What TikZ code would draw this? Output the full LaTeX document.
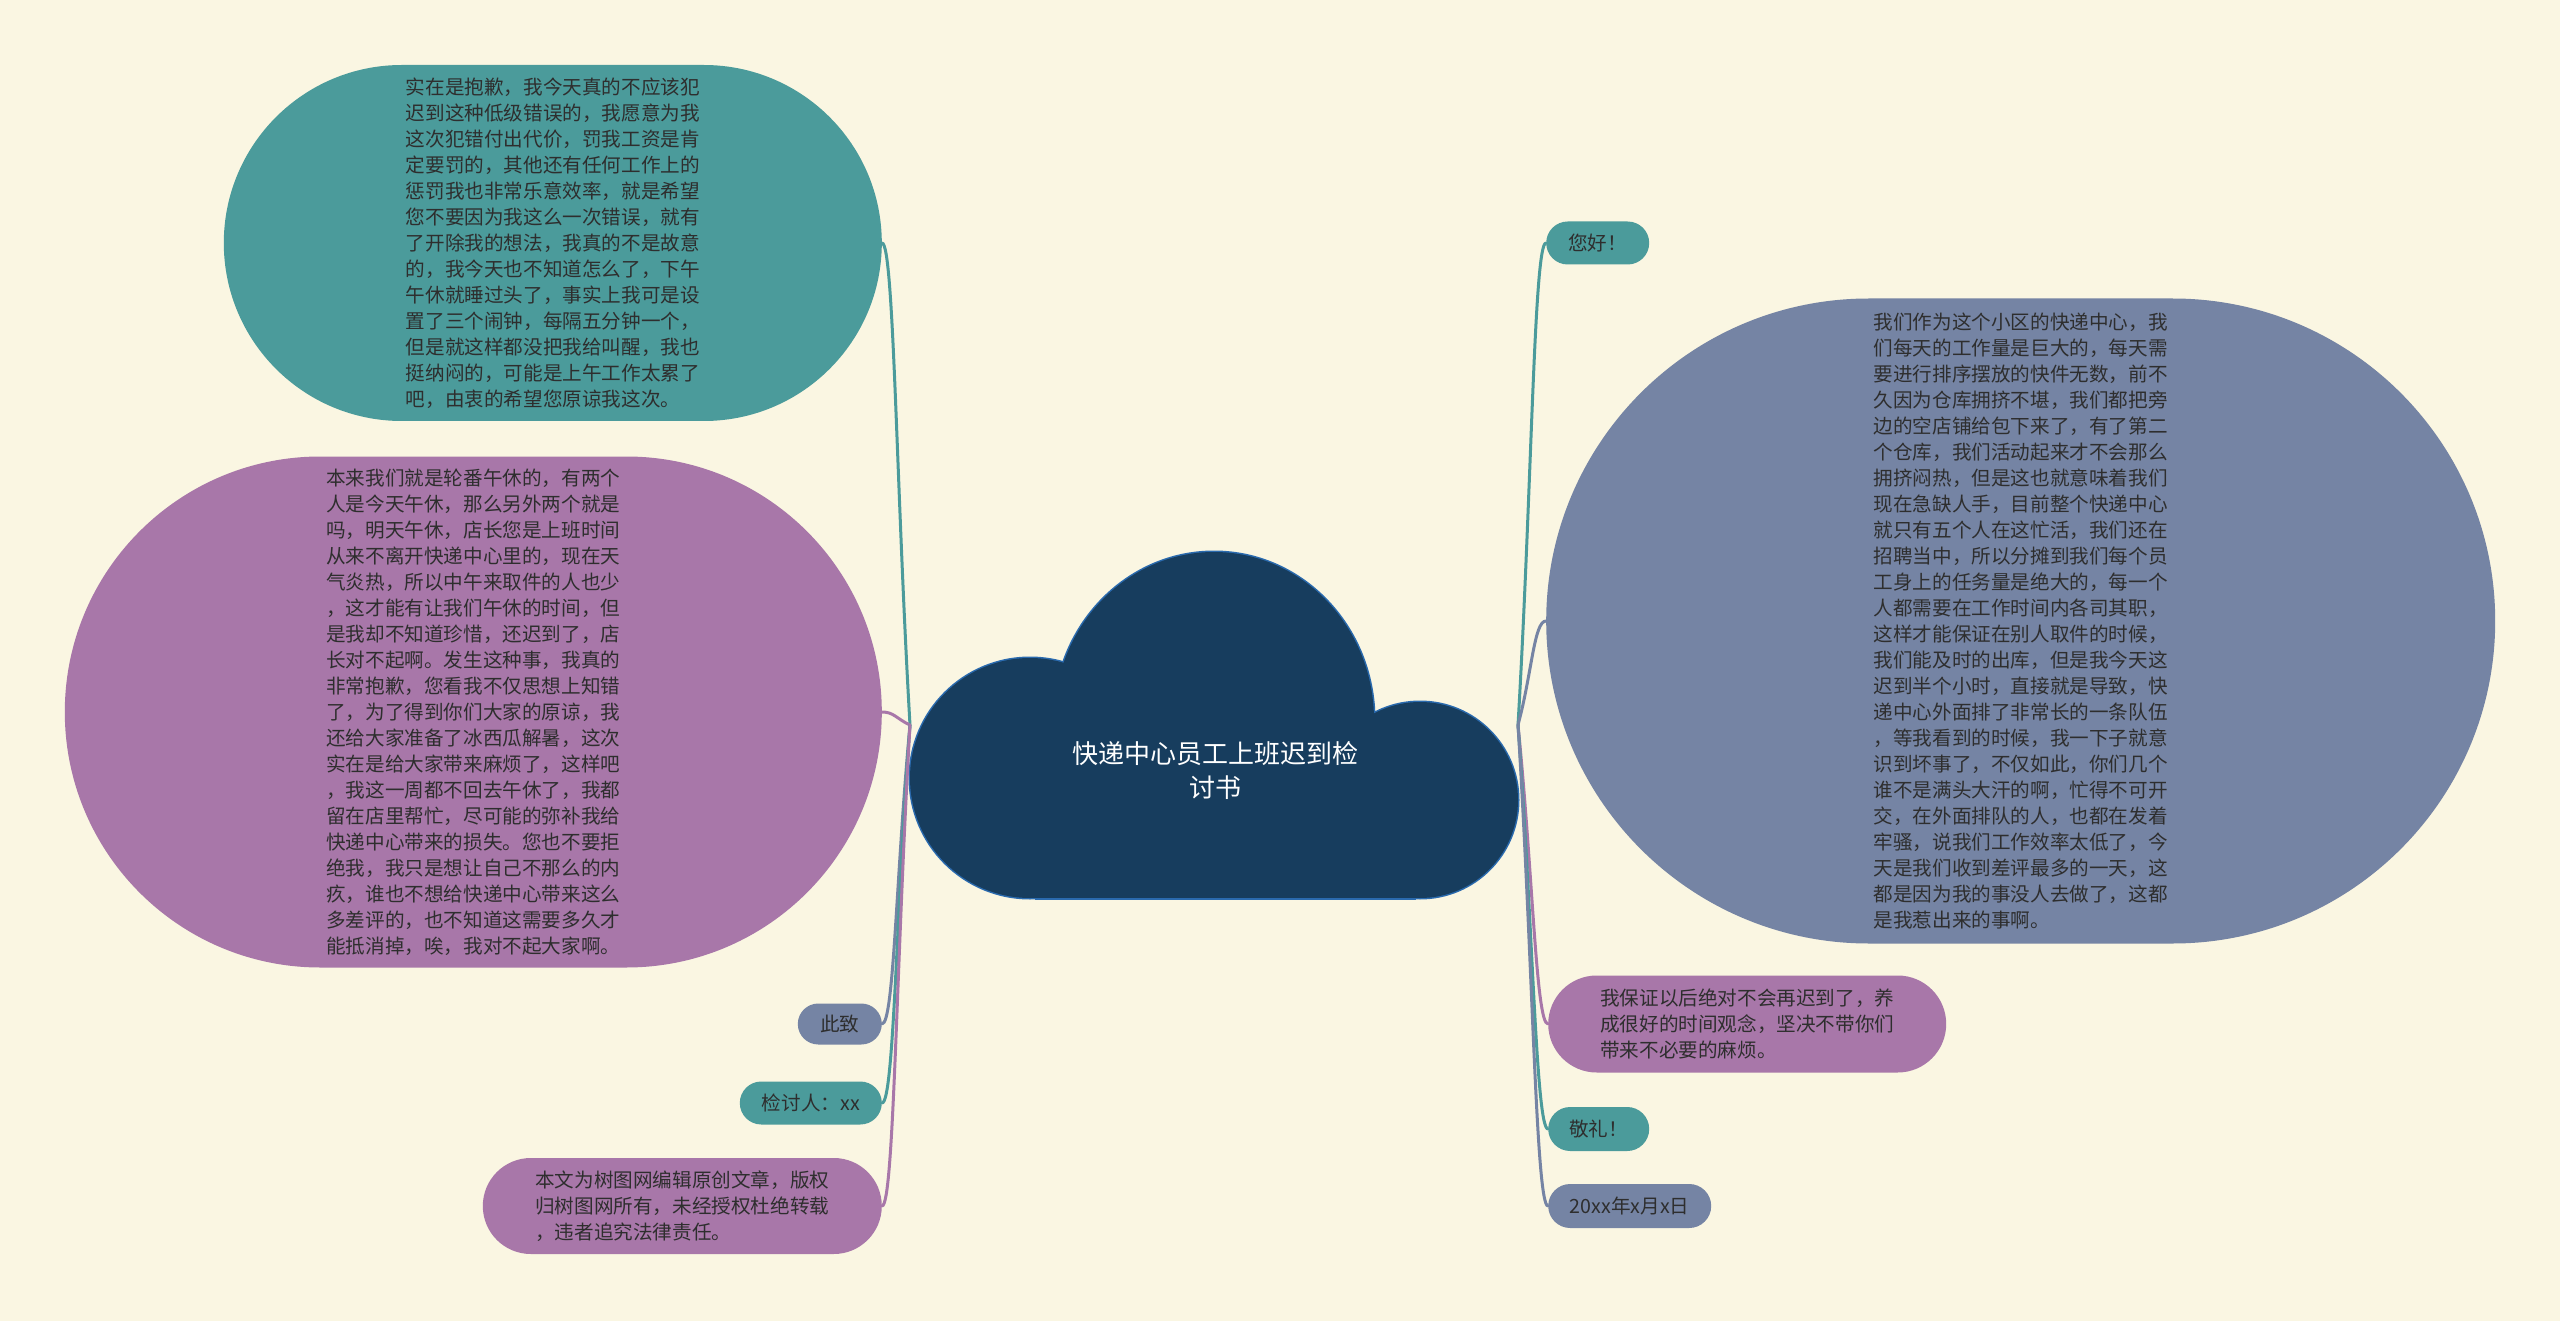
\documentclass[tikz,border=0pt]{standalone}
\usepackage{fontspec}
\newfontfamily\cjk{Noto Sans CJK SC}
\usepackage{tikz}
\usetikzlibrary{shapes.misc,calc}
\definecolor{bgcream}{HTML}{FAF6E2}
\definecolor{tealfill}{HTML}{4B9B9B}
\definecolor{plumfill}{HTML}{A877A9}
\definecolor{slatefill}{HTML}{7584A4}
\definecolor{navyfill}{HTML}{173D5E}
\definecolor{navyedge}{HTML}{2A6AAE}
\definecolor{inktext}{HTML}{2E2E2E}
\begin{document}
\begin{tikzpicture}[x=1pt, y=-1pt,
    leaf/.style={rounded rectangle, inner sep=0pt, text=inktext, align=left,
      font=\cjk\fontsize{19.6pt}{26pt}\selectfont},
    link/.style={line width=3pt, line cap=round}]
  \fill[bgcream] (0,0) rectangle (2560,1321);
  \useasboundingbox (0,0) rectangle (2560,1321);
  \foreach \pass in {1,2}{
    \ifnum\pass=1 \tikzset{lobe/.style={draw=navyedge, line width=3pt}}
    \else \tikzset{lobe/.style={fill=navyfill}}\fi
    \path[lobe] (1030,778) ellipse [x radius=120, y radius=120];
    \path[lobe] (1214,720) ellipse [x radius=160, y radius=168];
    \path[lobe] (1420,800) circle [radius=98];
    \path[lobe] (1036,720) rectangle (1414,898);
  }
  \node[text=white, align=center, font=\cjk\fontsize{26pt}{34pt}\selectfont] (title) at (1215,771)
    {快递中心员工上班迟到检\\讨书};
  \coordinate (hubL) at (910,725);
  \coordinate (hubR) at (1518,725);
  \node[leaf, fill=tealfill, minimum width=658, minimum height=356, anchor=east] (sorry) at (882,243)
    {实在是抱歉，我今天真的不应该犯\\迟到这种低级错误的，我愿意为我\\这次犯错付出代价，罚我工资是肯\\定要罚的，其他还有任何工作上的\\惩罚我也非常乐意效率，就是希望\\您不要因为我这么一次错误，就有\\了开除我的想法，我真的不是故意\\的，我今天也不知道怎么了，下午\\午休就睡过头了，事实上我可是设\\置了三个闹钟，每隔五分钟一个，\\但是就这样都没把我给叫醒，我也\\挺纳闷的，可能是上午工作太累了\\吧，由衷的希望您原谅我这次。};
  \node[leaf, fill=plumfill, minimum width=817, minimum height=511, anchor=east] (nap) at (882,712)
    {本来我们就是轮番午休的，有两个\\人是今天午休，那么另外两个就是\\吗，明天午休，店长您是上班时间\\从来不离开快递中心里的，现在天\\气炎热，所以中午来取件的人也少\\，这才能有让我们午休的时间，但\\是我却不知道珍惜，还迟到了，店\\长对不起啊。发生这种事，我真的\\非常抱歉，您看我不仅思想上知错\\了，为了得到你们大家的原谅，我\\还给大家准备了冰西瓜解暑，这次\\实在是给大家带来麻烦了，这样吧\\，我这一周都不回去午休了，我都\\留在店里帮忙，尽可能的弥补我给\\快递中心带来的损失。您也不要拒\\绝我，我只是想让自己不那么的内\\疚，谁也不想给快递中心带来这么\\多差评的，也不知道这需要多久才\\能抵消掉，唉，我对不起大家啊。};
  \node[leaf, fill=slatefill, minimum width=84, minimum height=41, anchor=east] (cizhi) at (882,1024) {此致};
  \node[leaf, fill=tealfill, minimum width=142, minimum height=43, anchor=east] (signer) at (882,1103) {检讨人：xx};
  \node[leaf, fill=plumfill, minimum width=399, minimum height=96, anchor=east] (note) at (882,1206)
    {本文为树图网编辑原创文章，版权\\归树图网所有，未经授权杜绝转载\\，违者追究法律责任。};
  \node[leaf, fill=tealfill, minimum width=103, minimum height=43, anchor=west] (hello) at (1546,243) {您好！};
  \node[leaf, fill=slatefill, minimum width=949, minimum height=645, anchor=west] (work) at (1546,621)
    {我们作为这个小区的快递中心，我\\们每天的工作量是巨大的，每天需\\要进行排序摆放的快件无数，前不\\久因为仓库拥挤不堪，我们都把旁\\边的空店铺给包下来了，有了第二\\个仓库，我们活动起来才不会那么\\拥挤闷热，但是这也就意味着我们\\现在急缺人手，目前整个快递中心\\就只有五个人在这忙活，我们还在\\招聘当中，所以分摊到我们每个员\\工身上的任务量是绝大的，每一个\\人都需要在工作时间内各司其职，\\这样才能保证在别人取件的时候，\\我们能及时的出库，但是我今天这\\迟到半个小时，直接就是导致，快\\递中心外面排了非常长的一条队伍\\，等我看到的时候，我一下子就意\\识到坏事了，不仅如此，你们几个\\谁不是满头大汗的啊，忙得不可开\\交，在外面排队的人，也都在发着\\牢骚，说我们工作效率太低了，今\\天是我们收到差评最多的一天，这\\都是因为我的事没人去做了，这都\\是我惹出来的事啊。};
  \node[leaf, fill=plumfill, minimum width=398, minimum height=97, anchor=west] (promise) at (1548,1024)
    {我保证以后绝对不会再迟到了，养\\成很好的时间观念，坚决不带你们\\带来不必要的麻烦。};
  \node[leaf, fill=tealfill, minimum width=101, minimum height=44, anchor=west] (salute) at (1548,1129) {敬礼！};
  \node[leaf, fill=slatefill, minimum width=163, minimum height=44, anchor=west] (date) at (1548,1206) {20xx年x月x日};
  \foreach \n/\c in {sorry/tealfill, nap/plumfill, cizhi/slatefill, signer/tealfill, note/plumfill}
    \draw[link, \c] (hubL) .. controls ($(hubL)!0.5!(\n.east)$) and ([xshift=12]\n.east) .. (\n.east);
  \foreach \n/\c in {hello/tealfill, work/slatefill, promise/plumfill, salute/tealfill, date/slatefill}
    \draw[link, \c] (hubR) .. controls ($(hubR)!0.5!(\n.west)$) and ([xshift=-12]\n.west) .. (\n.west);
\end{tikzpicture}
\end{document}
